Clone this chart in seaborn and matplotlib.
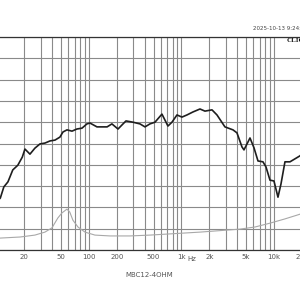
import matplotlib
matplotlib.use("Agg")
import matplotlib.pyplot as plt
import numpy as np
import pandas as pd
import seaborn as sns
from matplotlib.ticker import FixedLocator, FixedFormatter, NullFormatter

# frequency response (Hz, dB)
fr_freq = [10, 11, 12, 13.3, 15, 17, 19, 20.3, 23, 26, 29.5, 33.4, 37.9, 42.9, 48.5,
           52.3, 57.8, 65.5, 74, 84, 95, 102.5, 122, 131.5, 157, 177, 206, 251, 299,
           356, 403, 456, 517, 615, 714, 789, 894, 1012, 1146, 1330, 1585, 1795, 2138,
           2421, 2951, 3606, 3981, 4508, 4742, 5506, 6081, 6719, 7607, 8199, 9057,
           10000, 11050, 11910, 13150, 14900, 16870, 19100, 20000]
fr_db = [61.3, 62.2, 64.8, 66.0, 68.8, 69.9, 71.8, 73.7, 72.5, 73.9, 74.9, 75.1, 75.6, 75.8, 76.5,
         77.7, 78.2, 77.9, 78.4, 78.6, 79.6, 79.8, 78.9, 78.9, 78.9, 79.6, 78.4, 80.3, 80.0,
         79.6, 78.9, 79.6, 80.0, 81.9, 79.1, 80.0, 81.7, 81.2, 81.7, 82.4, 83.1, 82.6, 82.9,
         81.7, 78.9, 78.2, 77.5, 74.2, 73.5, 76.3, 74.0, 70.9, 70.7, 69.5, 66.4,
         66.2, 62.4, 65.5, 70.7, 70.7, 71.4, 72.1, 72.5]

# impedance (Hz, ohm)
z_freq = [10, 11, 18, 26, 33.4, 39.8, 46, 51, 57.8, 62, 67, 76, 90.5, 116, 169, 277,
          456, 1585, 4285, 6237, 9057, 13150, 19100, 20000]
z_ohm = [2.7, 2.8, 3.05, 3.5, 4.2, 5.2, 7.5, 8.7, 9.6, 8.9, 7.0, 5.4, 4.2, 3.5, 3.3, 3.3,
         3.5, 4.2, 4.9, 5.4, 6.3, 7.3, 8.4, 8.8]

tick_vals = [20, 50, 100, 200, 500, 1000, 2000, 5000, 10000, 20000]
tick_labels = ["20", "50", "100", "200", "500", "1k", "2k", "5k", "10k", "20k"]

sns.set_style("white")
fig = plt.figure(figsize=(3, 3), dpi=100)
ax = fig.add_axes([-3.5 / 300, 50 / 300, 305.3 / 300, 213 / 300])
ax.set_xscale("log")
ax2 = ax.twinx()

fr = pd.DataFrame({"freq": fr_freq, "db": fr_db})
z = pd.DataFrame({"freq": z_freq, "ohm": z_ohm})
sns.lineplot(data=z, x="freq", y="ohm", ax=ax2, color="#a8a8a8", linewidth=0.8)
sns.lineplot(data=fr, x="freq", y="db", ax=ax, color="#1e1e1e", linewidth=1.2)
ax.set_xlabel("")
ax.set_ylabel("")
ax2.set_ylabel("")
ax2.set_ylim(0, 50)
ax2.set_yticks([])
for s in ax2.spines.values():
    s.set_visible(False)

grid_lines = [m * 10 ** d for d in range(1, 5) for m in range(1, 10)]
ax.set_xlim(10, 20000)
ax.set_ylim(50, 100)
ax.xaxis.set_major_locator(FixedLocator(tick_vals))
ax.xaxis.set_major_formatter(FixedFormatter(tick_labels))
ax.xaxis.set_minor_locator(FixedLocator(grid_lines))
ax.xaxis.set_minor_formatter(NullFormatter())
ax.set_yticks(np.arange(50, 101, 5))
ax.set_yticklabels([])
ax.grid(which="both", axis="x", color="#8a8a8a", linewidth=0.8)
ax.grid(which="major", axis="y", color="#8a8a8a", linewidth=0.8)
ax.tick_params(axis="both", which="both", length=0, labelsize=5, colors="#555555", pad=3)
for s in ax.spines.values():
    s.set_color("#333333")
    s.set_linewidth(0.9)

ax.text(1300, -0.028, "Hz", transform=ax.get_xaxis_transform(), fontsize=5,
        color="#555555", ha="center", va="top")

fig.text(149 / 300, 1 - 275 / 300, "MBC12-4OHM", fontsize=5, color="#555555",
         ha="center", va="center")
fig.text(253 / 300, 1 - 28 / 300, "2025-10-13 9:24:03", fontsize=4, color="#444444",
         ha="left", va="center")
fig.text(287 / 300, 1 - 40 / 300, "CLIO", fontsize=5, color="#111111",
         ha="left", va="center", family="Liberation Serif", weight="bold")

fig.savefig("out.png", dpi=100)
